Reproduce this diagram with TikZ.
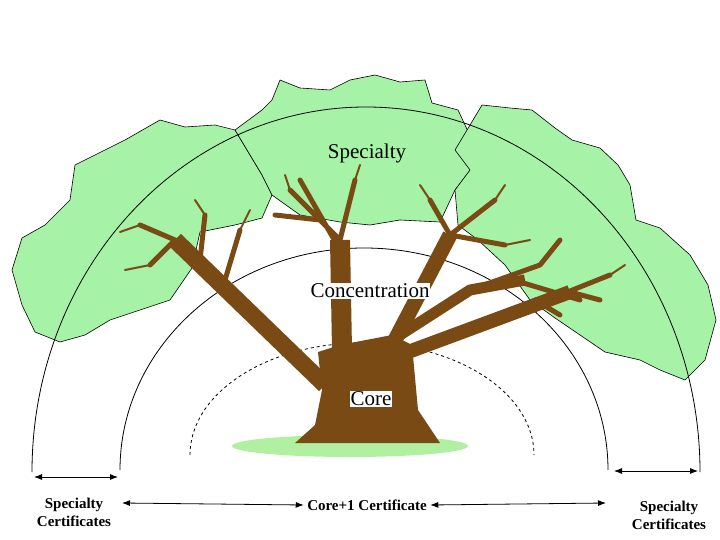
\documentclass[tikz,border=0pt]{standalone}
\usepackage{fontspec}
\setmainfont{Liberation Serif}
\usetikzlibrary{arrows.meta}
\definecolor{leaf}{HTML}{A6F2A6}
\definecolor{bark}{HTML}{7A4A14}
\definecolor{grass}{HTML}{B0F0A0}
\begin{document}
\begin{tikzpicture}[x=1pt,y=-1pt,
  canopy/.style={fill=leaf,draw=black,line width=0.6pt,line join=round},
  br/.style={draw=bark,line cap=round,line join=round},
  bt/.style={draw=bark,line cap=butt,line join=round},
  arcline/.style={draw=black,line width=0.8pt},
  lbl/.style={font=\fontsize{21}{23}\selectfont,inner sep=1pt},
  small/.style={font=\bfseries\fontsize{15}{18}\selectfont,align=center},
  arr/.style={{Latex[length=8pt,width=6pt]}-{Latex[length=8pt,width=6pt]},line width=0.8pt}]
\useasboundingbox (0,0) rectangle (720,540);
% canopy
\path[canopy] (12,270)--(22,238)--(45,225)--(70,200)--(75,165)--(105,150)--(125,140)--(160,120)--(185,127)--(215,125)--(235,130)--(262,175)--(272,195)--(262,218)--(235,225)--(200,232)--(192,268)--(170,300)--(140,310)--(110,320)--(85,335)--(60,342)--(35,332)--(22,305)--cycle;
\path[canopy] (235,130)--(262,110)--(272,100)--(280,80)--(300,88)--(330,90)--(350,80)--(375,75)--(400,82)--(425,80)--(432,103)--(458,110)--(472,140)--(478,160)--(455,190)--(440,222)--(400,220)--(370,225)--(340,222)--(300,215)--(272,195)--(262,175)--cycle;
\path[canopy] (455,150)--(470,125)--(482,105)--(510,108)--(532,110)--(555,128)--(572,140)--(600,148)--(618,165)--(630,185)--(636,220)--(660,228)--(690,255)--(708,285)--(716,320)--(705,360)--(685,380)--(660,370)--(640,360)--(605,352)--(580,335)--(555,318)--(530,300)--(505,265)--(478,240)--(458,225)--(455,190)--(470,170)--cycle;
% arcs
\draw[arcline] (32,472) arc[start angle=180,end angle=360,x radius=334,y radius=365];
\draw[arcline] (120,470) arc[start angle=180,end angle=360,x radius=244,y radius=222];
\draw[arcline,dashed] (190,455) arc[start angle=180,end angle=360,x radius=172,y radius=112];
% grass
\fill[grass] (350,446) ellipse[x radius=118,y radius=11];
% trunk
\fill[bark] (295,443)--(315,425)--(322,390)--(318,352)--(340,345)--(392,335)--(412,345)--(418,410)--(440,443)--cycle;
\path[bt,line width=17pt] (325,385)--(175,240);
\path[bt,line width=20pt] (342,350)--(340,240);
\path[bt,line width=15pt] (395,340)--(450,235);
\path[bt,line width=14pt] (400,355)--(570,292);
\path[bt,line width=11pt] (400,335)--(470,290)--(525,280);
\path[br,line width=5pt] (175,240)--(140,225) (175,240)--(150,265) (200,260)--(205,215) (225,280)--(240,230) (340,240)--(290,190) (340,240)--(355,180) (320,220)--(275,215) (340,250)--(300,180) (450,235)--(430,200) (450,235)--(495,200) (450,235)--(505,245) (470,290)--(540,265) (520,282)--(580,300) (560,295)--(610,275) (540,265)--(560,240) (570,292)--(600,300) (535,300)--(560,315);
\path[br,line width=2pt] (150,265)--(125,270) (140,225)--(120,232) (290,190)--(285,175) (355,180)--(360,165) (430,200)--(420,185) (495,200)--(505,185) (505,245)--(530,240) (610,275)--(625,265) (240,230)--(250,210) (205,215)--(195,200);
% labels
\node[lbl] (spec) at (367,153) {Specialty};
\node[lbl,fill=white] (conc) at (370,291) {Concentration};
\node[lbl,fill=white] (core) at (371,399) {Core};
\node[small] (sl) at (74,512) {Specialty\\Certificates};
\node[small] (sr) at (669,515) {Specialty\\Certificates};
\node[small] (c1) at (367,505) {Core+1 Certificate};
\coordinate (a1) at (34,477); \coordinate (a2) at (118,477);
\coordinate (b1) at (614,471); \coordinate (b2) at (698,471);
\coordinate (c0) at (122,503); \coordinate (c3) at (606,503);
\draw[arr] (a1)--(a2);
\draw[arr] (b1)--(b2);
\draw[arr] (c0)--(c1.west);
\draw[arr] (c1.east)--(c3);
\end{tikzpicture}
\end{document}
